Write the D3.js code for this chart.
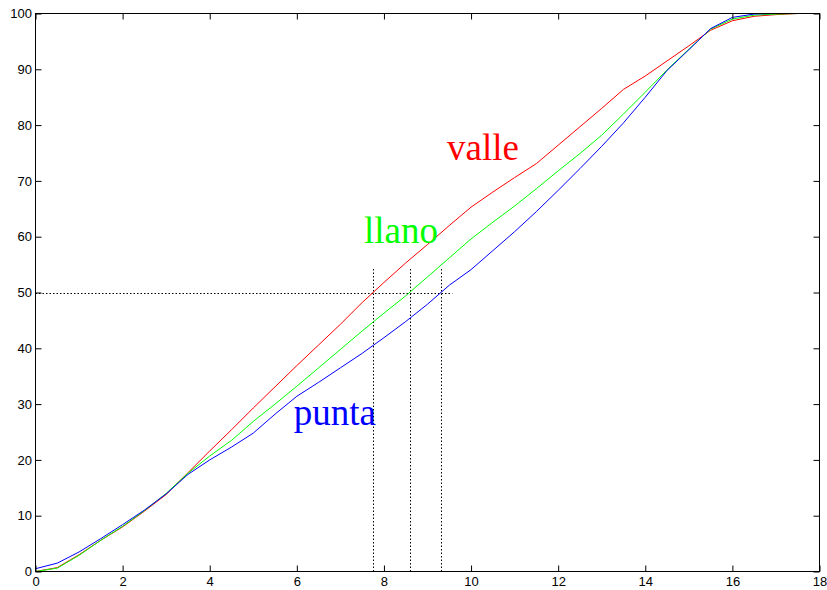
<!DOCTYPE html>
<html>
<head>
<meta charset="utf-8">
<script src="https://cdn.jsdelivr.net/npm/d3@7"></script>
<style>
  body { margin: 0; background: #fff; }
  svg { display: block; }
</style>
</head>
<body>
<svg id="chart" width="827" height="590"></svg>
<script>
// x grid shared by the three curves
var hours = [0, 0.5, 1, 1.5, 2, 2.5, 3, 3.5, 4, 4.5, 5, 5.5, 6, 6.5, 7, 7.5, 8, 8.5, 9,
             9.5, 10, 10.5, 11, 11.5, 12, 12.5, 13, 13.5, 14, 14.5, 15, 15.5, 16, 16.5, 17, 17.5, 18];

var valle = [0, 0.7, 3.0, 5.6, 8.0, 10.8, 13.8, 17.7, 21.6, 25.4, 29.3, 33.1, 36.9, 40.6, 44.3, 48.2,
             51.8, 55.3, 58.6, 62.0, 65.3, 68.0, 70.6, 73.1, 76.4, 79.7, 83.0, 86.4, 88.8, 91.5, 94.2,
             97.0, 98.7, 99.5, 99.8, 100, 100];
var llano = [0, 0.6, 2.9, 5.6, 8.1, 10.9, 14.0, 17.6, 20.7, 23.5, 26.9, 30.0, 33.2, 36.5, 39.8, 43.1,
             46.3, 49.4, 52.8, 56.2, 59.6, 62.6, 65.5, 68.6, 71.8, 74.9, 78.2, 82.0, 85.9, 89.9, 93.6,
             97.2, 99.0, 99.7, 99.9, 100, 100];
var punta = [0.5, 1.5, 3.5, 5.9, 8.4, 11.0, 13.9, 17.4, 20.0, 22.3, 24.8, 28.2, 31.4, 33.9, 36.5, 39.1,
             41.9, 44.8, 47.9, 51.3, 54.1, 57.5, 60.9, 64.5, 68.3, 72.2, 76.2, 80.4, 85.0, 89.8, 93.5,
             97.3, 99.3, 99.9, 100, 100, 100];

var seriesNames = ["valle", "llano", "punta"];
var seriesColors = ["#ff0000", "#00ff00", "#0000ff"];
// label anchor (data units) for each series name
var labelX = [9.45, 7.54, 5.93];
var labelY = [73.75, 58.8, 26.2];

// 50% crossing markers
var crossX = [7.74, 8.59, 9.30];
var crossLevel = 50;
var crossTop = 54.2;
var hLineEnd = 9.57;

var xTicks = [0, 2, 4, 6, 8, 10, 12, 14, 16, 18];
var yTicks = [0, 10, 20, 30, 40, 50, 60, 70, 80, 90, 100];

var plotL = 35.5, plotR = 819.5, plotT = 13.5, plotB = 571.5;

var x = d3.scaleLinear().domain([0, 18]).range([plotL, plotR]);
var y = d3.scaleLinear().domain([0, 100]).range([plotB, plotT]);

var svg = d3.select("#chart");

// dotted reference lines
var ref = svg.append("g")
    .attr("stroke", "#000")
    .attr("stroke-width", 1)
    .attr("stroke-dasharray", "1.5,2")
    .attr("fill", "none");
ref.append("line")
    .attr("x1", x(0)).attr("y1", Math.round(y(crossLevel)) + 0.5)
    .attr("x2", x(hLineEnd)).attr("y2", Math.round(y(crossLevel)) + 0.5);
ref.selectAll("line.v").data(crossX).enter()
    .append("line")
    .attr("class", "v")
    .attr("x1", function(d) { return Math.round(x(d)) + 0.5; })
    .attr("x2", function(d) { return Math.round(x(d)) + 0.5; })
    .attr("y1", y(0))
    .attr("y2", y(crossTop));

// curves
var data = [valle, llano, punta];
var line = d3.line()
    .x(function(d, i) { return x(hours[i]); })
    .y(function(d) { return y(d); });

svg.append("g").selectAll("path").data(data).enter()
    .append("path")
    .attr("d", line)
    .attr("fill", "none")
    .attr("stroke", function(d, i) { return seriesColors[i]; })
    .attr("stroke-width", 1);

// series names
svg.append("g").selectAll("text").data(seriesNames).enter()
    .append("text")
    .attr("x", function(d, i) { return x(labelX[i]); })
    .attr("y", function(d, i) { return y(labelY[i]); })
    .attr("fill", function(d, i) { return seriesColors[i]; })
    .style("font-family", "'Liberation Serif', 'Times New Roman', serif")
    .style("font-size", "37px")
    .text(function(d) { return d; });

// axes box with inward ticks on all four sides
var tickLen = 6;
var axisFont = function(g) {
    g.selectAll("text")
        .style("font-family", "'Liberation Sans', Arial, sans-serif")
        .style("font-size", "13px")
        .attr("fill", "#000");
    g.select(".domain").remove();
    g.selectAll(".tick line").attr("stroke", "#000");
};

svg.append("g")
    .attr("transform", "translate(0," + plotB + ")")
    .call(d3.axisBottom(x).tickValues(xTicks).tickSizeInner(-tickLen).tickSizeOuter(0).tickPadding(5).tickFormat(d3.format("d")))
    .call(axisFont)
    .selectAll("text").attr("dy", "0.71em").attr("y", 5);

svg.append("g")
    .attr("transform", "translate(" + plotL + ",0)")
    .call(d3.axisLeft(y).tickValues(yTicks).tickSizeInner(-tickLen).tickSizeOuter(0).tickPadding(4).tickFormat(d3.format("d")))
    .call(axisFont)
    .selectAll("text").attr("x", -3.5);

svg.append("g")
    .attr("transform", "translate(0," + plotT + ")")
    .call(d3.axisTop(x).tickValues(xTicks).tickSizeInner(-tickLen).tickSizeOuter(0).tickFormat(""))
    .call(axisFont);

svg.append("g")
    .attr("transform", "translate(" + plotR + ",0)")
    .call(d3.axisRight(y).tickValues(yTicks).tickSizeInner(-tickLen).tickSizeOuter(0).tickFormat(""))
    .call(axisFont);

svg.append("rect")
    .attr("x", plotL).attr("y", plotT)
    .attr("width", plotR - plotL).attr("height", plotB - plotT)
    .attr("fill", "none")
    .attr("stroke", "#000")
    .attr("stroke-width", 1);
</script>
</body>
</html>
